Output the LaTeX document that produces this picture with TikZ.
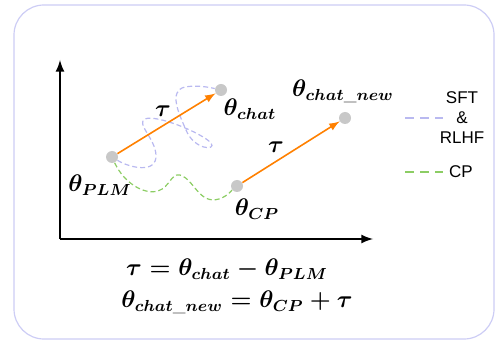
\documentclass[tikz,border=0pt]{standalone}
\usepackage{amsmath, amssymb}
\usepackage{fontspec}
\newfontfamily\legendfont{Liberation Sans}
\usetikzlibrary{arrows,positioning,calc}

\definecolor{boxline}{RGB}{205,205,245}
\definecolor{vecorange}{RGB}{255,128,0}
\definecolor{dotgray}{RGB}{200,200,200}
\definecolor{sftblue}{RGB}{185,185,240}
\definecolor{cpgreen}{RGB}{140,205,100}

\tikzset{
  param/.style={circle, fill=dotgray, inner sep=0pt, minimum size=6pt},
  shift vec/.style={-latex, vecorange, line width=0.8pt},
  sft path/.style={sftblue, line width=0.6pt, dash pattern=on 2.5pt off 1.5pt},
  cp path/.style={cpgreen, line width=0.6pt, dash pattern=on 2.5pt off 1.5pt},
  legend line/.style={line width=1pt, dash pattern=on 4.5pt off 3pt},
  legend text/.style={font=\legendfont\fontsize{8.5}{10}\selectfont, align=center},
}

\begin{document}
\begin{tikzpicture}[x=0.5pt,y=0.5pt,yscale=-1,xscale=1]
\useasboundingbox (0,0) rectangle (496,341);

%Shape: Rounded Rect
\draw [boxline, line width=0.6pt, rounded corners=15pt] (14,5) rectangle (494,339);

%Axes
\coordinate (origin) at (60,239);
\coordinate (ytip) at (60,60);
\coordinate (xtip) at (373,239);
\draw [-latex, line width=1pt] (origin) -- (ytip);
\draw [-latex, line width=1pt] (origin) -- (xtip);

%Parameter points
\node (plm) [param] at (112,157) {};
\node (chat) [param] at (221,90) {};
\node (cp) [param] at (237,186) {};
\node (chatnew) [param] at (345,118) {};

%SFT & RLHF path
\draw [sft path] (plm) .. controls (130,168) and (157,174) .. (156,155)
  .. controls (155,138) and (136,124) .. (145,119)
  .. controls (156,114) and (202,133) .. (211,143)
  .. controls (217,151) and (194,150) .. (186,130)
  .. controls (179,114) and (168,91) .. (185,87)
  .. controls (196,85) and (208,87) .. (chat);
%CP path
\draw [cp path] (plm) .. controls (124,183) and (144,195) .. (158,191)
  .. controls (170,187) and (171,173) .. (180,175)
  .. controls (194,179) and (199,205) .. (219,199)
  .. controls (228,196) and (232,190) .. (cp);

%Task vectors
\draw [shift vec] (plm) -- (chat);
\draw [shift vec] (cp) -- (chatnew);

% Text Node
\node (tau1) at (163,111) {\large$\boldsymbol{\tau}$};
% Text Node
\node (tau2) at (276,147) {\large$\boldsymbol{\tau}$};
% Text Node
\node (lplm) at (100,185) {\large$\boldsymbol{\theta_{PLM}}$};
% Text Node
\node (lchat) at (250,109) {\large$\boldsymbol{\theta_{chat}}$};
% Text Node
\node (lchatnew) at (343,91) {\large$\boldsymbol{\theta_{chat\_new}}$};
% Text Node
\node (lcp) at (257,209) {\large$\boldsymbol{\theta_{CP}}$};

%Legend
\coordinate (sfta) at (405,118);
\coordinate (sftb) at (443,118);
\draw [sftblue, legend line] (sfta) -- (sftb);
\node (lsft) [legend text] at (462,118) {SFT\\\&\\RLHF};
\coordinate (cpa) at (405,172);
\coordinate (cpb) at (443,172);
\draw [cpgreen, legend line] (cpa) -- (cpb);
\node (lcpleg) [legend text] at (461,172) {CP};

% Text Node
\node (eq1) at (227,269) {\large$\boldsymbol{\tau=\theta_{chat}-\theta_{PLM}}$};
% Text Node
\node (eq2) at (237,302) {\large$\boldsymbol{\theta_{chat\_new}=\theta_{CP}+\tau}$};

\end{tikzpicture}
\end{document}
